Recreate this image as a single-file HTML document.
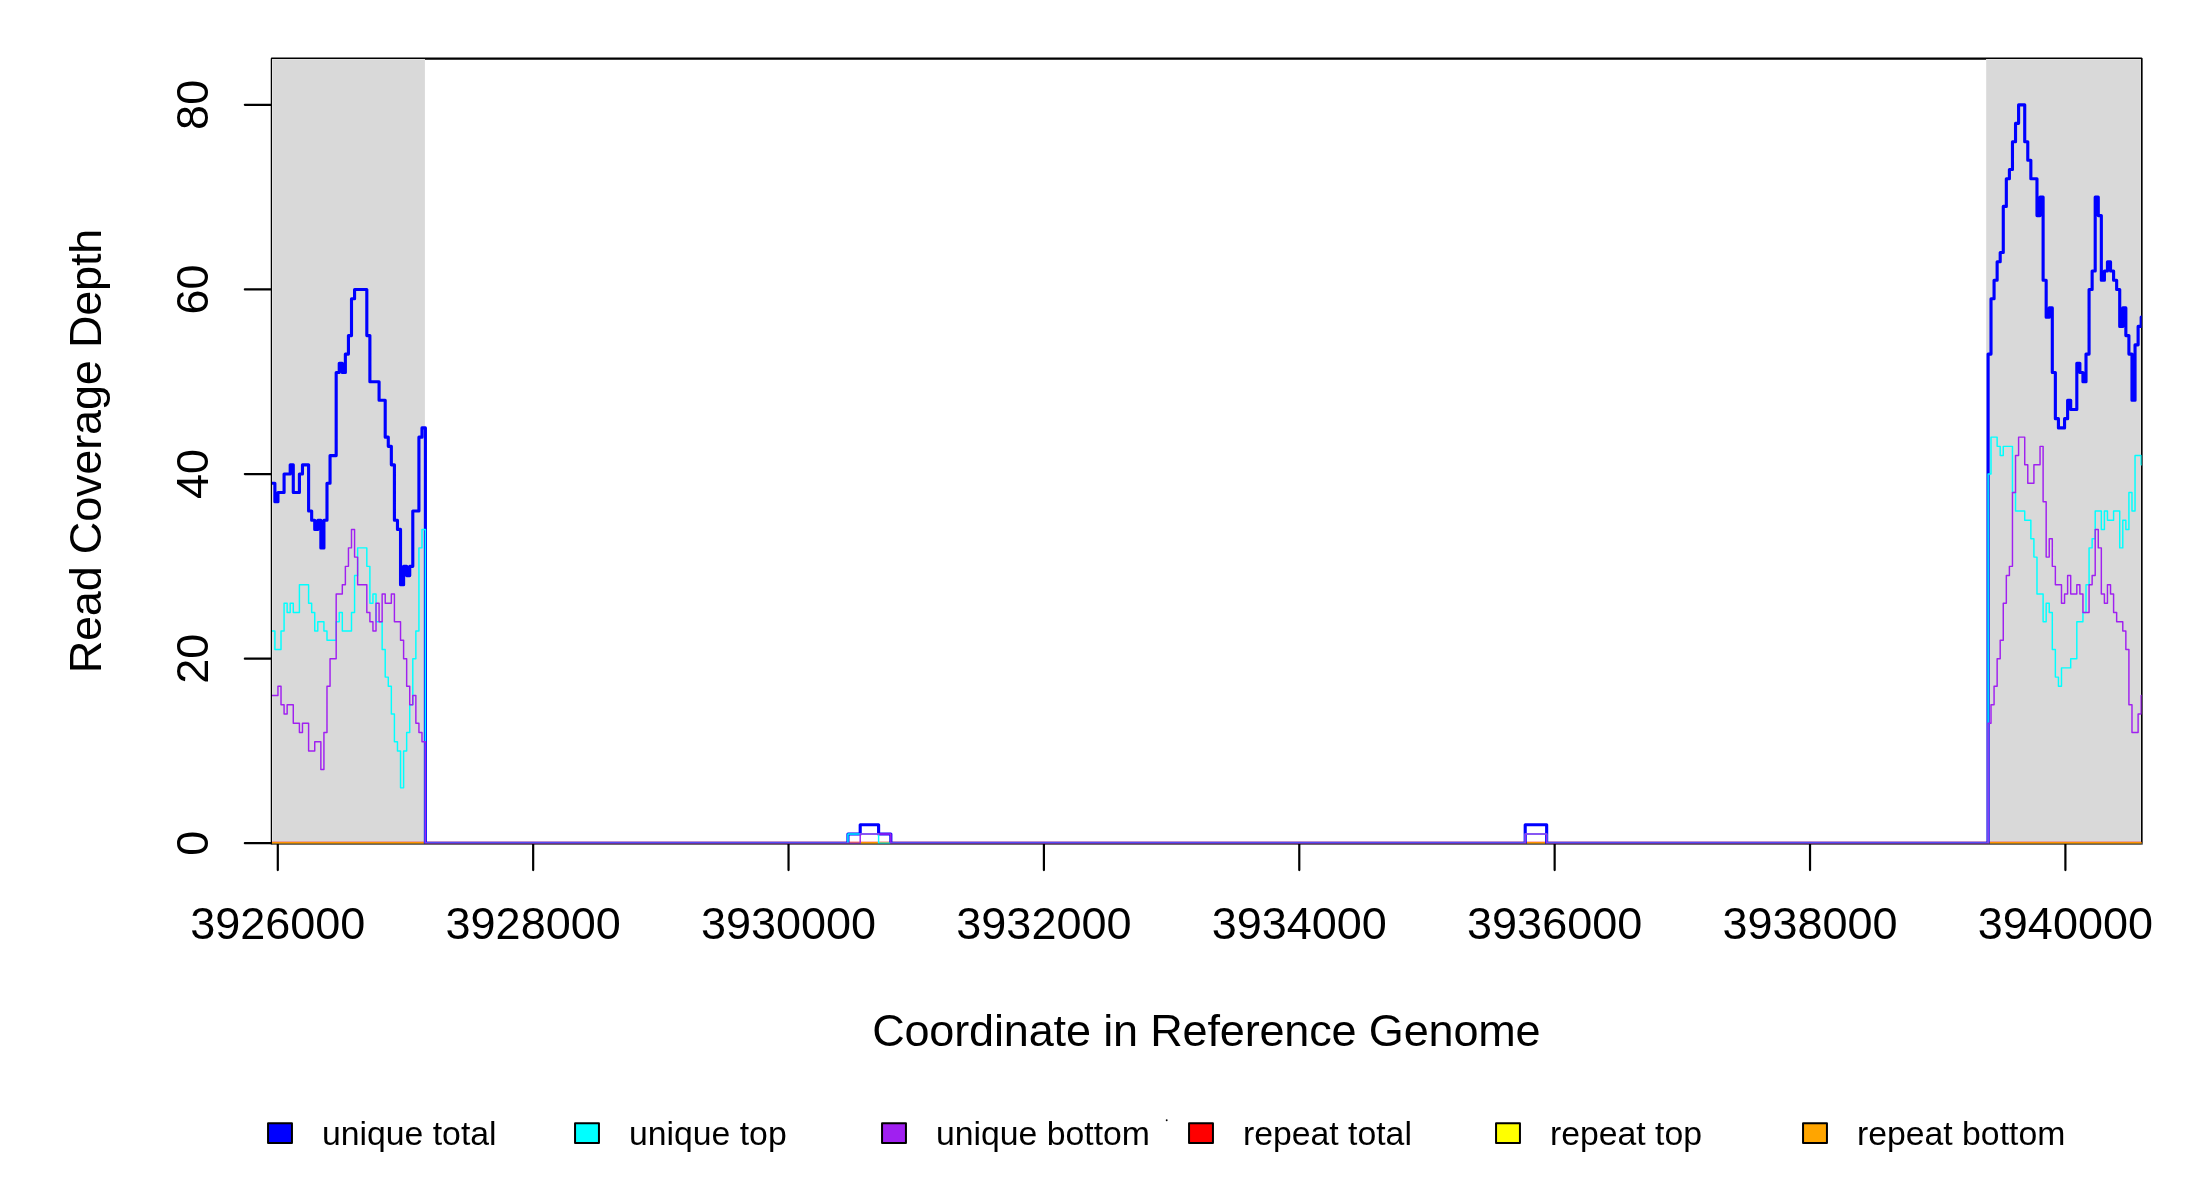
<!DOCTYPE html><html><head><meta charset="utf-8"><title>coverage</title><style>html,body{margin:0;padding:0;background:#fff}svg{display:block}text{font-family:'Liberation Sans',sans-serif;fill:#000}</style></head><body>
<svg width="2200" height="1200" viewBox="0 0 2200 1200" style="will-change:transform">
<rect width="2200" height="1200" fill="#fff"/>
<defs><clipPath id="d"><rect x="272" y="59" width="1870" height="785"/></clipPath></defs>
<rect x="271.85" y="58.65" width="1869.45" height="784.50" fill="none" stroke="#000" stroke-width="2.2" stroke-linejoin="round"/>
<g stroke="#000" stroke-width="2.2" stroke-linecap="round" fill="none"><path d="M277.80 843.15V870.05"/><path d="M533.17 843.15V870.05"/><path d="M788.54 843.15V870.05"/><path d="M1043.91 843.15V870.05"/><path d="M1299.28 843.15V870.05"/><path d="M1554.65 843.15V870.05"/><path d="M1810.03 843.15V870.05"/><path d="M2065.40 843.15V870.05"/><path d="M271.85 843.15H244.85"/><path d="M271.85 658.65H244.85"/><path d="M271.85 474.05H244.85"/><path d="M271.85 289.46H244.85"/><path d="M271.85 104.86H244.85"/></g>
<rect x="272" y="59" width="152.9" height="784" fill="#d9d9d9"/>
<rect x="1986.2" y="59" width="154.7" height="784" fill="#d9d9d9"/>
<path d="M272 59H424.9V60H273V843H272Z M1986.2 59H2140.9V843H2139.9V60H1986.2Z" fill="#e3e3e3"/>
<g clip-path="url(#d)" fill="none" stroke-linejoin="round" stroke-linecap="round">
<path d="M270.83 843.25H2144.30" stroke="#ff0000" stroke-width="3.125"/>
<path d="M270.83 843.25H2144.30" stroke="#ffff00" stroke-width="1.45"/>
<path d="M270.83 843.25H2144.30" stroke="#ffa500" stroke-width="1.45"/>
<path d="M270.83 483.28H274.89V501.74H277.95V492.51H284.08V474.05H290.21V464.82H293.28V492.51H299.41V474.05H302.47V464.82H308.60V510.97H311.66V520.20H314.73V529.43H317.79V520.20H320.86V547.89H323.92V520.20H326.99V483.28H330.05V455.59H336.18V372.53H339.24V363.30H342.31V372.53H345.37V354.07H348.44V335.61H351.50V298.69H354.57V289.46H366.82V335.61H369.89V381.75H379.08V400.21H385.21V437.13H388.28V446.36H391.34V464.82H394.41V520.20H397.47V529.43H400.53V584.81H403.60V566.35H406.66V575.58H409.73V566.35H412.79V510.97H418.92V437.13H421.99V427.90H425.40V843.25H847.95V834.02H860.21V824.79H878.60V834.02H890.85V843.25H1525.21V824.79H1546.66V843.25H1988.10V354.07H1991.01V298.69H1994.07V280.23H1997.14V261.77H2000.20V252.54H2003.27V206.39H2006.33V178.70H2009.40V169.47H2012.46V141.78H2015.53V123.32H2018.59V104.86H2024.72V141.78H2027.78V160.24H2030.85V178.70H2036.98V215.62H2040.04V197.16H2043.11V280.23H2046.17V317.15H2049.24V307.92H2052.30V372.53H2055.36V418.67H2058.43V427.90H2064.56V418.67H2067.62V400.21H2070.69V409.44H2076.82V363.30H2079.88V372.53H2082.94V381.75H2086.01V354.07H2089.07V289.46H2092.14V271.00H2095.20V197.16H2098.27V215.62H2101.33V280.23H2104.40V271.00H2107.46V261.77H2110.53V271.00H2113.59V280.23H2116.65V289.46H2119.72V326.38H2122.78V307.92H2125.85V335.61H2128.91V354.07H2131.98V400.21H2135.04V344.84H2138.11V326.38H2141.17V317.15H2144.30" stroke="#0000ff" stroke-width="3.125"/>
<path d="M270.83 630.96H274.89V649.42H281.02V630.96H284.08V603.27H287.15V612.50H290.21V603.27H293.28V612.50H299.41V584.81H308.60V603.27H311.66V612.50H314.73V630.96H317.79V621.73H323.92V630.96H326.99V640.19H336.18V621.73H339.24V612.50H342.31V630.96H351.50V612.50H354.57V575.58H357.63V547.89H366.82V566.35H369.89V603.27H372.95V594.04H376.02V621.73H382.15V649.42H385.21V677.11H388.28V686.34H391.34V714.03H394.41V741.72H397.47V750.95H400.53V787.87H403.60V750.95H406.66V732.49H409.73V704.80H412.79V658.65H415.86V630.96H418.92V547.89H421.99V529.43H425.40V843.25H847.95V834.02H878.60V843.25H1525.21V834.02H1546.66V843.25H1988.10V474.05H1991.01V437.13H1997.14V446.36H2000.20V455.59H2003.27V446.36H2012.46V492.51H2015.53V510.97H2024.72V520.20H2030.85V538.66H2033.91V557.12H2036.98V594.04H2043.11V621.73H2046.17V603.27H2049.24V612.50H2052.30V649.42H2055.36V677.11H2058.43V686.34H2061.49V667.88H2070.69V658.65H2076.82V621.73H2082.94V612.50H2086.01V584.81H2089.07V547.89H2092.14V538.66H2095.20V510.97H2101.33V529.43H2104.40V510.97H2107.46V520.20H2113.59V510.97H2119.72V547.89H2122.78V520.20H2125.85V529.43H2128.91V492.51H2131.98V510.97H2135.04V455.59H2141.17V464.82H2144.30" stroke="#00ffff" stroke-width="1.45"/>
<path d="M270.83 695.57H277.95V686.34H281.02V704.80H284.08V714.03H287.15V704.80H293.28V723.26H299.41V732.49H302.47V723.26H308.60V750.95H314.73V741.72H320.86V769.41H323.92V732.49H326.99V686.34H330.05V658.65H336.18V594.04H342.31V584.81H345.37V566.35H348.44V547.89H351.50V529.43H354.57V557.12H357.63V584.81H366.82V612.50H369.89V621.73H372.95V630.96H376.02V603.27H379.08V621.73H382.15V594.04H385.21V603.27H391.34V594.04H394.41V621.73H400.53V640.19H403.60V658.65H406.66V686.34H409.73V704.80H412.79V695.57H415.86V723.26H418.92V732.49H421.99V741.72H425.40V843.25H860.21V834.02H890.85V843.25H1525.21V834.02H1546.66V843.25H1988.10V723.26H1991.01V704.80H1994.07V686.34H1997.14V658.65H2000.20V640.19H2003.27V603.27H2006.33V575.58H2009.40V566.35H2012.46V492.51H2015.53V455.59H2018.59V437.13H2024.72V464.82H2027.78V483.28H2033.91V464.82H2040.04V446.36H2043.11V501.74H2046.17V557.12H2049.24V538.66H2052.30V566.35H2055.36V584.81H2061.49V603.27H2064.56V594.04H2067.62V575.58H2070.69V594.04H2076.82V584.81H2079.88V594.04H2082.94V612.50H2089.07V584.81H2092.14V575.58H2095.20V529.43H2098.27V547.89H2101.33V594.04H2104.40V603.27H2107.46V584.81H2110.53V594.04H2113.59V612.50H2116.65V621.73H2122.78V630.96H2125.85V649.42H2128.91V704.80H2131.98V732.49H2138.11V714.03H2141.17V695.57H2144.30" stroke="#a020f0" stroke-width="1.45"/>
</g>
<rect x="2141.65" y="58" width="0.75" height="786" fill="#000"/>
<rect x="272" y="843" width="1869.8" height="1" fill="#3c3c3c" opacity="0.5"/><rect x="270.75" y="844" width="1872.15" height="1" fill="#000" opacity="0.42"/>
<text x="277.80" y="939.4" font-size="45" text-anchor="middle">3926000</text>
<text x="533.17" y="939.4" font-size="45" text-anchor="middle">3928000</text>
<text x="788.54" y="939.4" font-size="45" text-anchor="middle">3930000</text>
<text x="1043.91" y="939.4" font-size="45" text-anchor="middle">3932000</text>
<text x="1299.28" y="939.4" font-size="45" text-anchor="middle">3934000</text>
<text x="1554.65" y="939.4" font-size="45" text-anchor="middle">3936000</text>
<text x="1810.03" y="939.4" font-size="45" text-anchor="middle">3938000</text>
<text x="2065.40" y="939.4" font-size="45" text-anchor="middle">3940000</text>
<text transform="translate(207.7 843.15) rotate(-90)" font-size="45" text-anchor="middle">0</text>
<text transform="translate(207.7 658.65) rotate(-90)" font-size="45" text-anchor="middle">20</text>
<text transform="translate(207.7 474.05) rotate(-90)" font-size="45" text-anchor="middle">40</text>
<text transform="translate(207.7 289.46) rotate(-90)" font-size="45" text-anchor="middle">60</text>
<text transform="translate(207.7 104.86) rotate(-90)" font-size="45" text-anchor="middle">80</text>
<text x="1206.4" y="1046.3" font-size="45" text-anchor="middle" textLength="668.5">Coordinate in Reference Genome</text>
<text transform="translate(101 451.0) rotate(-90)" font-size="45" text-anchor="middle" textLength="444.7">Read Coverage Depth</text>
<rect x="268.05" y="1123.2" width="23.9" height="19.8" fill="#0000ff" stroke="#000" stroke-width="2" stroke-linejoin="round"/>
<text x="322.02" y="1145.3" font-size="33.75">unique total</text>
<rect x="575.05" y="1123.2" width="23.9" height="19.8" fill="#00ffff" stroke="#000" stroke-width="2" stroke-linejoin="round"/>
<text x="629.02" y="1145.3" font-size="33.75">unique top</text>
<rect x="882.05" y="1123.2" width="23.9" height="19.8" fill="#a020f0" stroke="#000" stroke-width="2" stroke-linejoin="round"/>
<text x="936.02" y="1145.3" font-size="33.75">unique bottom</text>
<rect x="1189.05" y="1123.2" width="23.9" height="19.8" fill="#ff0000" stroke="#000" stroke-width="2" stroke-linejoin="round"/>
<text x="1243.02" y="1145.3" font-size="33.75">repeat total</text>
<rect x="1496.05" y="1123.2" width="23.9" height="19.8" fill="#ffff00" stroke="#000" stroke-width="2" stroke-linejoin="round"/>
<text x="1550.02" y="1145.3" font-size="33.75">repeat top</text>
<rect x="1803.05" y="1123.2" width="23.9" height="19.8" fill="#ffa500" stroke="#000" stroke-width="2" stroke-linejoin="round"/>
<text x="1857.02" y="1145.3" font-size="33.75">repeat bottom</text>
<circle cx="1166.7" cy="1120.3" r="0.95" fill="#000"/>
</svg></body></html>
